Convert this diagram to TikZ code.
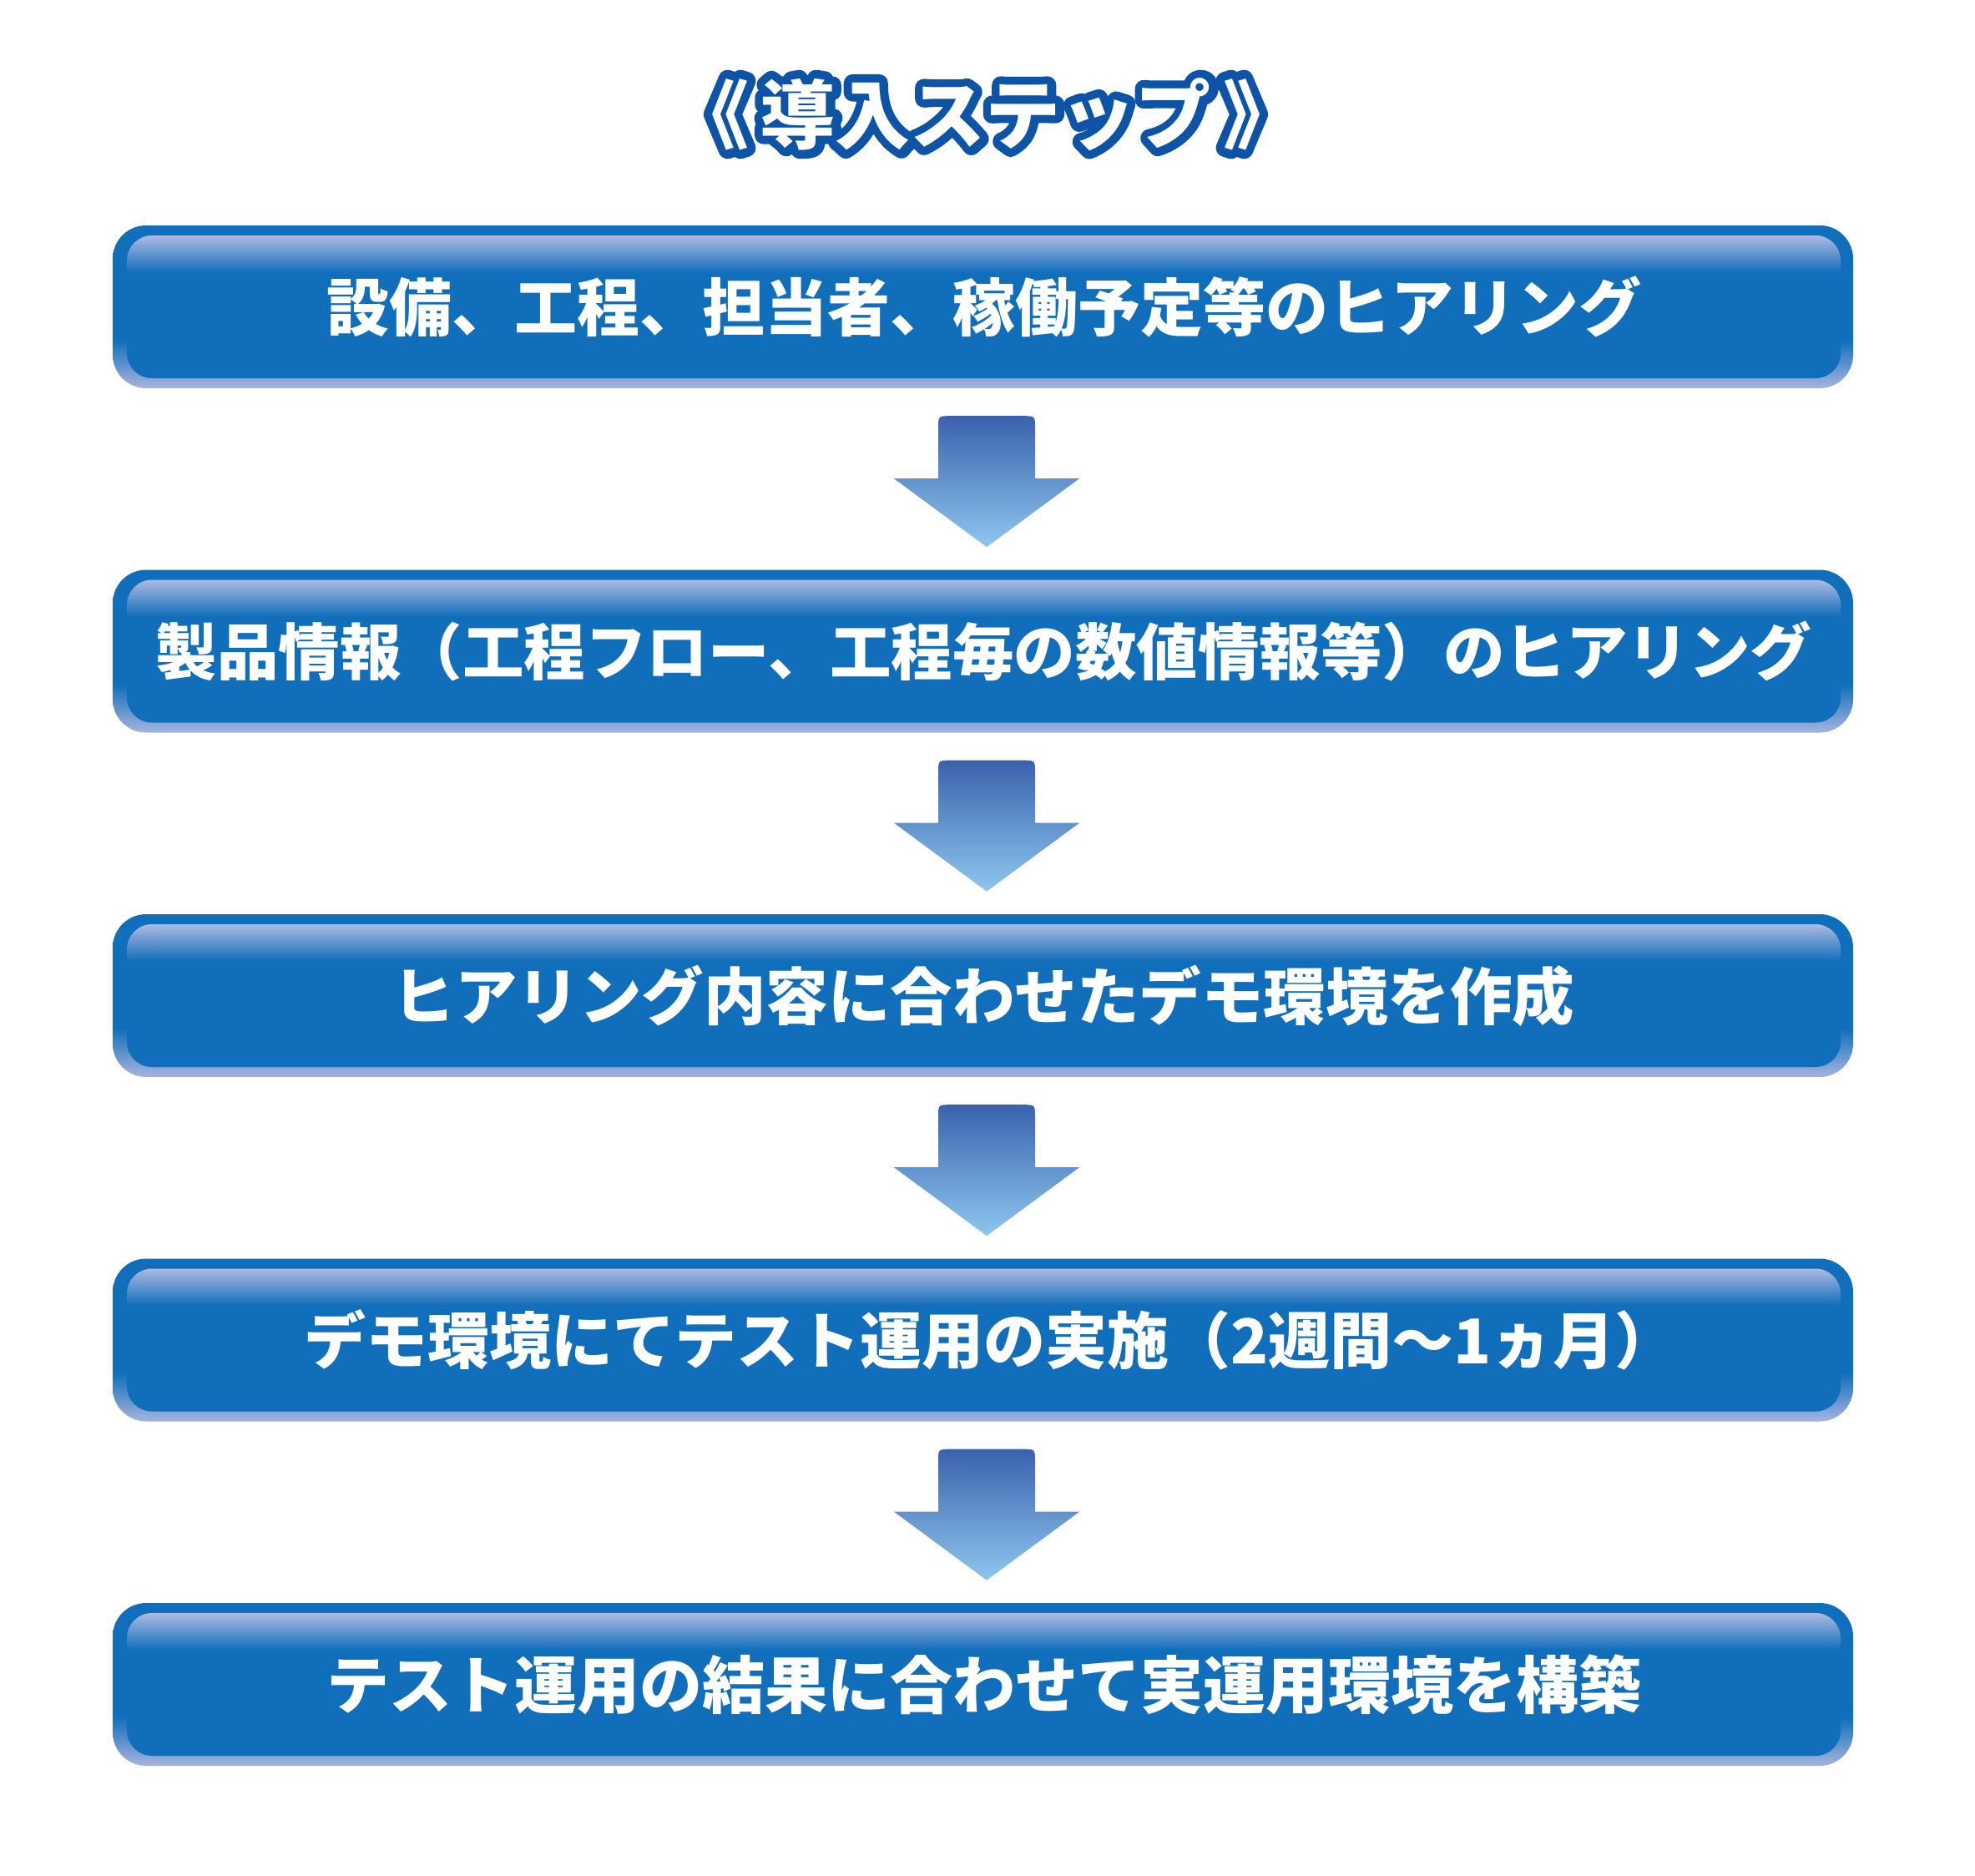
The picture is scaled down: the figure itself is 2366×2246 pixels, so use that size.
\documentclass[tikz,border=0pt]{standalone}
\usepackage{fontspec}
\newfontfamily\cjk{Noto Sans CJK JP}
\newfontfamily\cjkfat{Noto Sans CJK JP Bold}[FakeBold=24]
\usetikzlibrary{calc}
\definecolor{boxblue}{RGB}{16,110,186}
\definecolor{facetop}{RGB}{172,186,226}
\definecolor{framelight}{RGB}{166,180,222}
\definecolor{arrowtop}{RGB}{58,98,172}
\definecolor{arrowbot}{RGB}{142,198,238}
\definecolor{titleblue}{RGB}{14,84,166}
\pgfdeclareverticalshading{framesh}{100bp}{color(0bp)=(framelight); color(25bp)=(framelight); color(40bp)=(boxblue); color(100bp)=(boxblue)}
\pgfdeclareverticalshading{facesh}{100bp}{color(0bp)=(boxblue); color(62bp)=(boxblue); color(75bp)=(facetop); color(100bp)=(facetop)}
\pgfdeclareverticalshading{arrowsh}{100bp}{color(0bp)=(arrowbot); color(25bp)=(arrowbot); color(75bp)=(arrowtop); color(100bp)=(arrowtop)}
\tikzset{
  frame/.style={rectangle, rounded corners=40pt, shade, shading=framesh, minimum width=2085pt, minimum height=195pt, inner sep=0pt},
  face/.style={rectangle, rounded corners=30pt, shade, shading=facesh, minimum width=2053pt, minimum height=171pt, inner sep=0pt},
  steptext/.style={text=white, inner sep=0pt, font=\cjk\bfseries\fontsize{75}{80}\selectfont},
  downarrow/.style={shade, shading=arrowsh}
}
\newcommand\titlestr{《\hspace{14pt}導入ステップ\hspace{14pt}》}
\newcommand\downarr[1]{%
  \path[downarrow] ($(#1)+(-111,75)$) -- ($(#1)+(-58,75)$) -- ($(#1)+(-58,15)$)
    .. controls ($(#1)+(-58,0)$) .. ($(#1)+(-43,0)$) -- ($(#1)+(43,0)$)
    .. controls ($(#1)+(58,0)$) .. ($(#1)+(58,15)$) -- ($(#1)+(58,75)$)
    -- ($(#1)+(111,75)$) -- ($(#1)+(0,157)$) -- cycle;}
\begin{document}
\begin{tikzpicture}[x=1pt,y=-1pt]
\fill[white] (0,0) rectangle (2366,2246);
\useasboundingbox (0,0) rectangle (2366,2246);
% title: thick blue stroked copy behind, white copy in front
\node[inner sep=0pt, text=titleblue, font=\cjkfat\fontsize{90}{96}\selectfont] (titleout) at (1181,137) {\special{pdf:literal direct 1 j 1 J}\titlestr};
\node[inner sep=0pt, text=white, font=\cjk\bfseries\fontsize{90}{96}\selectfont] (title) at (titleout) {\titlestr};
% boxes
\node[frame] (f1) at (1177.5,367.5) {};
\node[face]  (b1) at (1178.5,367.5) {};
\node[steptext] (t1) at (b1) {設備、工程、担当者、稼働予定等のヒアリング};
\node[frame] (f2) at (1177.5,780) {};
\node[face]  (b2) at (1178.5,780) {};
\node[steptext, font=\cjk\bfseries\fontsize{73.5}{80}\selectfont] (t2) at (b2) {製品情報（工程フロー、工程毎の数値情報等）のヒアリング};
\node[frame] (f3) at (1177.5,1192.5) {};
\node[face]  (b3) at (1178.5,1192.5) {};
\node[steptext, font=\cjk\bfseries\fontsize{74.5}{80}\selectfont] (t3) at (b3) {ヒアリング内容に合わせたデモ環境を作成};
\node[frame] (f4) at (1177.5,1605) {};
\node[face]  (b4) at (1178.5,1605) {};
\node[steptext, font=\cjk\bfseries\fontsize{74}{80}\selectfont] (t4) at ($(b4)+(8,0)$) {デモ環境にてテスト運用の実施（2週間～1ヵ月）};
\node[frame] (f5) at (1177.5,2017.5) {};
\node[face]  (b5) at (1178.5,2017.5) {};
\node[steptext] (t5) at (b5) {テスト運用の結果に合わせて実運用環境を構築};
% arrows
\foreach \i in {1,2,3,4}{
  \coordinate (a\i) at ($(f\i.south)+(4.5,33)$);
  \downarr{a\i}
}
\end{tikzpicture}
\end{document}
